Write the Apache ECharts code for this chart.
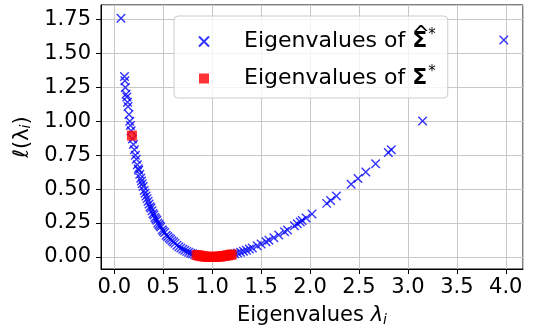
<!DOCTYPE html>
<html><head><meta charset="utf-8">
<script src="https://cdn.jsdelivr.net/npm/echarts@6/dist/echarts.min.js"></script>
<style>html,body{margin:0;padding:0;background:#fff}#c{width:537px;height:332px}</style>
</head><body><div id="c"></div>
<script>
// Estimated eigenvalues (x) and loss values (y)
const hatX = [0.068,0.104,0.108,0.113,0.120,0.128,0.135,0.140,0.150,0.158,0.165,0.172,0.185,0.195,0.205,0.215,0.225,0.235,0.245,0.250,0.260,0.270,0.278,0.285,0.295,0.305,0.315,0.325,0.335,0.345,0.355,0.365,0.375,0.385,0.395,0.405,0.415,0.425,0.435,0.445,0.455,0.465,0.475,0.490,0.500,0.515,0.530,0.545,0.560,0.575,0.590,0.605,0.620,0.640,0.660,0.680,0.700,0.720,0.740,0.760,0.780,0.800,0.820,0.850,0.900,0.950,1.000,1.050,1.100,1.150,1.200,1.230,1.260,1.290,1.320,1.350,1.380,1.410,1.460,1.500,1.550,1.580,1.630,1.680,1.740,1.770,1.840,1.870,1.900,1.920,1.960,2.020,2.170,2.210,2.270,2.420,2.490,2.570,2.670,2.800,2.830,3.150,3.980];
const hatY = [1.76,1.33,1.30,1.25,1.20,1.18,1.14,1.11,1.05,1.00,0.97,0.93,0.87,0.83,0.79,0.75,0.72,0.68,0.65,0.64,0.61,0.58,0.56,0.54,0.52,0.49,0.47,0.45,0.43,0.41,0.39,0.37,0.36,0.34,0.32,0.31,0.29,0.28,0.27,0.25,0.24,0.23,0.22,0.20,0.19,0.18,0.16,0.15,0.14,0.13,0.12,0.11,0.10,0.086,0.075,0.066,0.057,0.049,0.041,0.034,0.028,0.023,0.018,0.013,0.005,0.001,0.0,0.001,0.005,0.010,0.018,0.023,0.029,0.035,0.042,0.050,0.058,0.066,0.082,0.095,0.112,0.123,0.141,0.161,0.186,0.199,0.230,0.244,0.258,0.268,0.287,0.317,0.395,0.417,0.450,0.536,0.578,0.626,0.688,0.770,0.790,1.003,1.599];
const trueX = [0.180,0.840,0.860,0.880,0.900,0.920,0.940,0.960,0.980,1.000,1.020,1.040,1.060,1.080,1.100,1.120,1.140,1.160,1.180,1.200];
const trueY = [0.895,0.014,0.011,0.008,0.005,0.003,0.002,0.001,0.000,0.000,0.000,0.001,0.002,0.003,0.005,0.007,0.009,0.012,0.015,0.018];
const seriesNames = ['hat', 'true'];

const FONT = 'DejaVu Sans';
const FS = 21;
const LFS = 22;
const zip = (a, b) => a.map((v, i) => [v, b[i]]);
const chart = echarts.init(document.getElementById('c'), null, {renderer: 'canvas'});
const axisCommon = {
  axisLine: {show: true, onZero: false, lineStyle: {color: '#000', width: 1}},
  axisTick: {show: true, inside: false, length: 5, lineStyle: {color: '#000', width: 1}},
  splitLine: {show: true, lineStyle: {color: '#c8c8c8', width: 1}}
};
const nameRich = {
  i: {fontFamily: FONT, fontSize: FS, fontStyle: 'italic', color: '#000'},
  s: {fontFamily: FONT, fontSize: 14, fontStyle: 'italic', color: '#000', verticalAlign: 'bottom', padding: [8, 0, 0, 0]}
};
const LH = 33;
chart.setOption({
  animation: false,
  backgroundColor: '#fff',
  grid: {left: 101, right: 14, top: 5, bottom: 61, show: true, borderColor: '#000', borderWidth: 1, containLabel: false},
  xAxis: Object.assign({
    type: 'value', min: -0.136, max: 4.176, splitNumber: 8, minInterval: 0.5, maxInterval: 0.5,
    axisLabel: {fontFamily: FONT, fontSize: FS, color: '#000', margin: 8, formatter: v => v.toFixed(1)},
    name: 'Eigenvalues {i|λ}{s|i}', nameLocation: 'middle', nameGap: 36,
    nameTextStyle: {fontFamily: FONT, fontSize: FS, color: '#000', rich: nameRich}
  }, axisCommon),
  yAxis: Object.assign({
    type: 'value', min: -0.089, max: 1.858, splitNumber: 8, minInterval: 0.25, maxInterval: 0.25,
    axisLabel: {fontFamily: FONT, fontSize: FS, color: '#000', margin: 10, formatter: v => v.toFixed(2)},
    name: '{i|ℓ}(λ{s|i})', nameLocation: 'middle', nameGap: 62, nameRotate: 90,
    nameTextStyle: {fontFamily: FONT, fontSize: FS, color: '#000', rich: nameRich}
  }, axisCommon),
  legend: {
    left: 174, top: 16, orient: 'vertical', itemGap: 4,
    padding: [9, 12, 3, 24],
    itemWidth: 12, itemHeight: 10,
    backgroundColor: 'rgba(255,255,255,0.8)', borderColor: '#cccccc', borderWidth: 1, borderRadius: 4,
    data: seriesNames,
    formatter: n => n === 'hat' ? '{g|}{t|Eigenvalues of }{h|^}{b|Σ}{u|*}' : '{g|}{t|Eigenvalues of }{b|Σ}{u|*}',
    textStyle: {fontFamily: FONT, fontSize: LFS, color: '#000',
      rich: {
        g: {width: 29, lineHeight: LH},
        t: {fontFamily: FONT, fontSize: LFS, color: '#000', lineHeight: LH},
        b: {fontFamily: FONT, fontSize: LFS, fontWeight: 'bold', color: '#000', lineHeight: LH},
        h: {fontFamily: FONT, fontSize: 21, color: '#000', width: 0.01, lineHeight: 21, verticalAlign: 'top', padding: [0, 0, 12, 0]},
        u: {fontFamily: FONT, fontSize: 15, color: '#000', lineHeight: 15, verticalAlign: 'top', padding: [3, 0, 15, 1]}
      }}
  },
  series: [
    {name: 'hat', type: 'scatter', data: zip(hatX, hatY), symbol: 'path://M0,0L10,10M10,0L0,10', symbolSize: 8.5,
     itemStyle: {color: 'transparent', borderColor: '#0000ff', borderWidth: 1.4}, z: 2},
    {name: 'true', type: 'scatter', data: zip(trueX, trueY), symbol: 'path://M0,0H10V10H0Z', symbolSize: 10,
     itemStyle: {color: '#ff0000'}, z: 3}
  ]
});
</script></body></html>
